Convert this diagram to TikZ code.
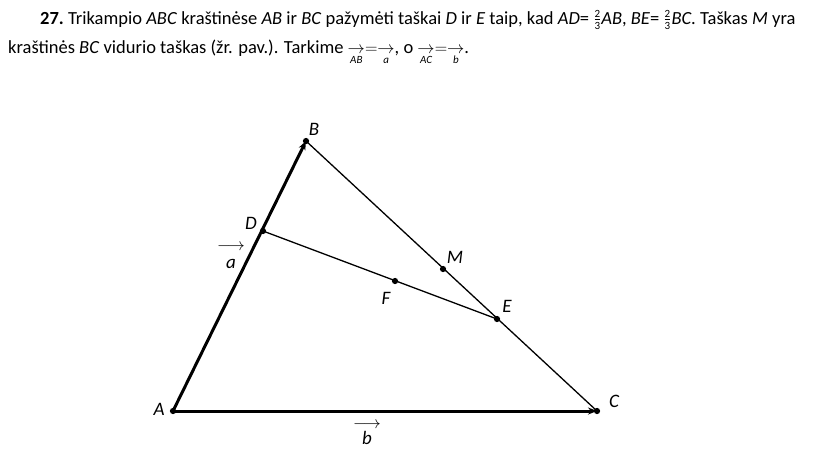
\documentclass[tikz,border=0pt]{standalone}
\usepackage{amsmath}
\usepackage{fontspec}
\setmainfont{Carlito}
\usetikzlibrary{arrows.meta}

\newcommand{\vecu}[1]{\underset{\text{\fontsize{11}{11}\selectfont\itshape #1}}{\rightarrow}}
\newcommand{\tfr}{\ensuremath{\frac{\text{\fontsize{11}{11}\selectfont 2}}{\text{\fontsize{11}{11}\selectfont 3}}}}
\newcommand{\arrowtop}{{\fontsize{16}{16}\selectfont$\longrightarrow$}}

\begin{document}
\begin{tikzpicture}[x=1pt, y=-1pt,
    side/.style={line width=1.3pt},
    vecside/.style={line width=3pt, -{Stealth[length=9pt, width=7pt]}},
    pt/.style={circle, fill, inner sep=2.2pt},
    lbl/.style={font=\fontsize{19}{22}\selectfont\itshape},
    veclbl/.style={font=\fontsize{19}{22}\selectfont, align=center, inner sep=0pt}]
  \useasboundingbox (0,0) rectangle (821,456);

  % Problem text
  \node[anchor=base west, inner sep=0pt, font=\fontsize{18.5}{22}\selectfont] (line1) at (40,24)
    {\textbf{27.}\ Trikampio \textit{ABC} kraštinėse \textit{AB} ir \textit{BC} pažymėti taškai \textit{D} ir \textit{E} taip, kad \textit{AD}= \tfr\textit{AB}, \textit{BE}= \tfr\textit{BC}. Taškas \textit{M} yra};
  \node[anchor=base west, inner sep=0pt, font=\fontsize{18.5}{22}\selectfont] (line2) at (8,53)
    {kraštinės \textit{BC} vidurio taškas (žr. pav.). Tarkime $\vecu{AB}=\vecu{a}$, o $\vecu{AC}=\vecu{b}$.};

  % Points
  \coordinate (A) at (173,411);
  \coordinate (B) at (306,141);
  \coordinate (C) at (597,411);
  \coordinate (D) at (263,231);
  \coordinate (E) at (497,319);
  \coordinate (M) at (443,269);
  \coordinate (F) at (395,281);

  % Sides
  \draw[side] (B) -- (C);
  \draw[side] (D) -- (E);
  \draw[vecside] (A) -- (B);
  \draw[vecside] (A) -- (C);

  % Dots
  \foreach \p in {A,B,C,D,E,M,F}
    \node[pt] (dot\p) at (\p) {};

  % Labels
  \node[lbl] (lA) at (159,409) {A};
  \node[lbl] (lB) at (314,129) {B};
  \node[lbl] (lC) at (614,401) {C};
  \node[lbl] (lD) at (251,223) {D};
  \node[lbl] (lE) at (507,306) {E};
  \node[lbl] (lM) at (455,257) {M};
  \node[lbl] (lF) at (386,298) {F};
  \node[veclbl] (la) at (231,256) {\arrowtop\\[-4pt]\textit{a}};
  \node[veclbl] (lb) at (367,433) {\arrowtop\\[-6pt]\textit{b}};
\end{tikzpicture}
\end{document}
